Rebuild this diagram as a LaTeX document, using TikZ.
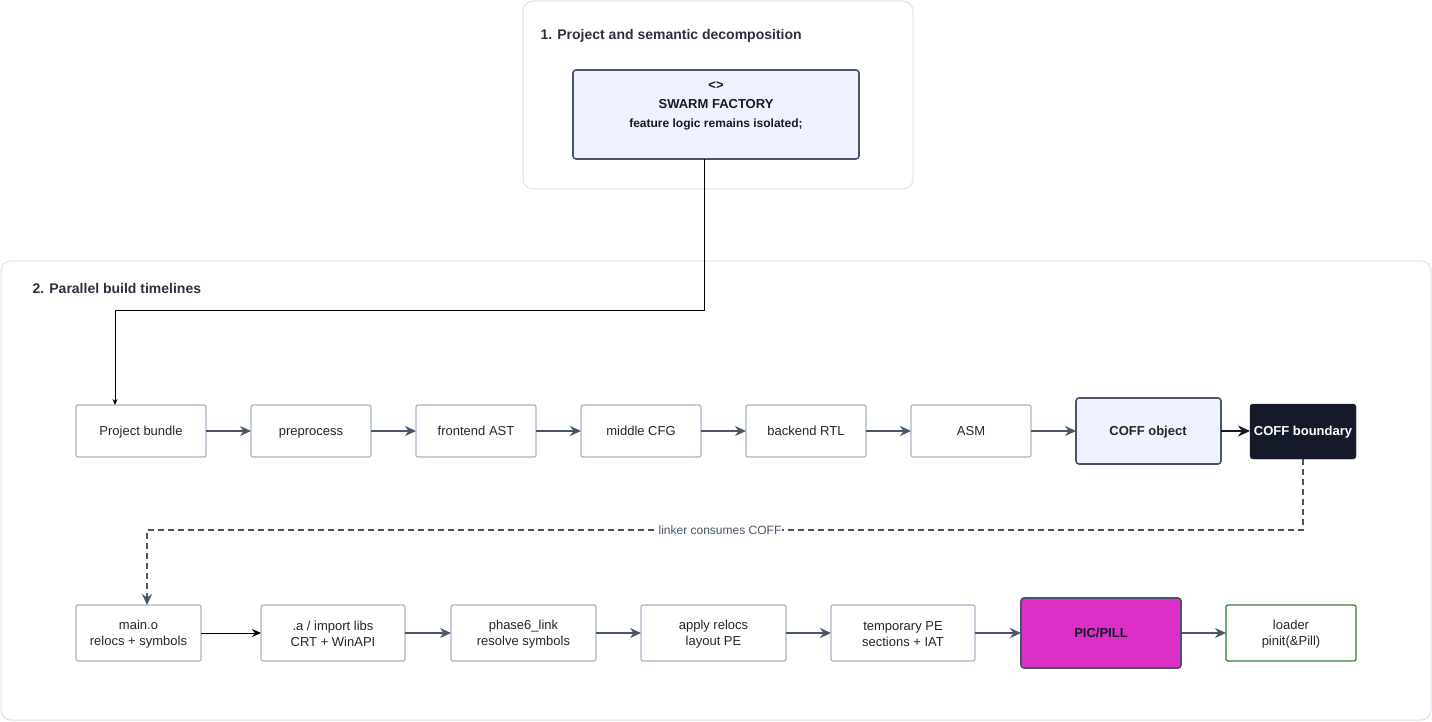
\documentclass[tikz,border=0pt]{standalone}
\usepackage{fontspec}
\setmainfont{Liberation Sans}
\usetikzlibrary{arrows.meta}
\definecolor{bd}{HTML}{A9B4C8}
\definecolor{dk}{HTML}{4A5568}
\definecolor{blu}{HTML}{EDF2FE}
\definecolor{nav}{HTML}{141A2A}
\definecolor{mag}{HTML}{DC2FC8}
\definecolor{grn}{HTML}{2E7D32}
\definecolor{cont}{HTML}{DDE1EC}
\begin{document}
\begin{tikzpicture}[x=1pt,y=-1pt,
  box/.style={draw=bd,line width=1.2pt,rounded corners=2pt,fill=white},
  lbl/.style={font=\fontsize{13}{16}\selectfont,align=center,text=black!85},
  one/.style={text height=9.5pt,text depth=2.5pt},
  arr/.style={draw=dk,line width=1.3pt,-{Stealth[length=11pt,width=10pt]}},
  cbox/.style={draw=cont,line width=1pt,rounded corners=10pt}]
\useasboundingbox (0,0) rectangle (1432,722);
\draw[cbox] (523,1) rectangle (913,189);
\node[anchor=west,font=\bfseries\fontsize{14}{16}\selectfont,text=nav!90] (t1) at (537,36) {1. Project and semantic decomposition};
\draw[cbox] (1,261) rectangle (1431,720);
\node[anchor=west,font=\bfseries\fontsize{14}{16}\selectfont,text=nav!90] (t2) at (29,288) {2. Parallel build timelines};
\draw[draw=dk,line width=1.6pt,fill=blu,rounded corners=3pt] (573,70) rectangle (859,159);
\node[align=center,font=\bfseries\fontsize{13}{19}\selectfont,text=nav] (sw) at (716,106) {<>\\SWARM FACTORY\\{\fontsize{12}{16}\selectfont feature logic remains isolated;}};
\coordinate (swb) at (704,159);
% row 1
\foreach \n/\a/\b/\t in {pb/76/206/Project bundle,pp/251/371/preprocess,fe/416/536/frontend AST,mc/581/701/middle CFG,br/746/866/backend RTL,as/911/1031/ASM}{
  \draw[box] (\a,405) rectangle (\b,457);
  \node[lbl,one] (\n) at ({(\a+\b)/2},432) {\t};
  \coordinate (\n w) at (\a,431); \coordinate (\n e) at (\b,431);}
\draw[draw=dk,line width=1.6pt,fill=blu,rounded corners=3pt] (1076,398) rectangle (1221,464);
\node[lbl,one,font=\bfseries\fontsize{13}{16}\selectfont] (co) at (1148,432) {COFF object};
\coordinate (cow) at (1076,431); \coordinate (coe) at (1221,431);
\draw[fill=nav,draw=nav,rounded corners=3pt] (1250,404) rectangle (1356,459);
\node[one,font=\bfseries\fontsize{13}{16}\selectfont,text=white] (cb) at (1303,432) {COFF boundary};
\coordinate (cbw) at (1250,431); \coordinate (cbs) at (1303,459);
\draw[arr] (pbe)--(ppw); \draw[arr] (ppe)--(few); \draw[arr] (fee)--(mcw);
\draw[arr] (mce)--(brw); \draw[arr] (bre)--(asw); \draw[arr] (ase)--(cow);
\draw[draw=nav,line width=2pt,-{Stealth[length=12pt,width=11pt]}] (coe)--(cbw);
% row 2
\foreach \n/\a/\b/\t in {mo/76/201/{main.o\\relocs + symbols},al/261/405/{.a / import libs\\CRT + WinAPI},ph/451/596/{phase6\_link\\resolve symbols},ar/641/786/{apply relocs\\layout PE},tp/831/975/{temporary PE\\sections + IAT}}{
  \draw[box] (\a,605) rectangle (\b,661);
  \node[lbl] (\n) at ({(\a+\b)/2},634) {\t};
  \coordinate (\n w) at (\a,633); \coordinate (\n e) at (\b,633);}
\draw[draw=dk,line width=1.6pt,fill=mag,rounded corners=3pt] (1021,598) rectangle (1181,668);
\node[lbl,one,font=\bfseries\fontsize{13}{16}\selectfont,text=nav] (pp2) at (1101,634) {PIC/PILL};
\coordinate (pw) at (1021,633); \coordinate (pe) at (1181,633);
\draw[draw=grn,line width=1.2pt,rounded corners=2pt] (1226,605) rectangle (1356,661);
\node[lbl] (ld) at (1291,634) {loader\\pinit(\&Pill)};
\coordinate (lw) at (1226,633); \coordinate (mon) at (147,605);
\draw[draw=black,line width=1pt,-{Stealth[length=9pt,width=8pt]}] (moe)--(alw);
\draw[arr] (ale)--(phw); \draw[arr] (phe)--(arw); \draw[arr] (are)--(tpw);
\draw[arr] (tpe)--(pw); \draw[arr] (pe)--(lw);
\coordinate (pbt) at (115,405);
\draw[black,line width=1pt,-{Stealth[length=6pt,width=5pt]}] (swb)--(704,310)--(115,310)--(pbt);
\draw[dk,line width=1.3pt,dash pattern=on 6pt off 4pt,-{Stealth[length=11pt,width=10pt]}] (cbs)--(1303,530)--(147,530)--(mon);
\node[fill=white,inner sep=1pt,font=\fontsize{12}{14}\selectfont,text=dk] (lc) at (720,530) {linker consumes COFF};
\end{tikzpicture}
\end{document}
